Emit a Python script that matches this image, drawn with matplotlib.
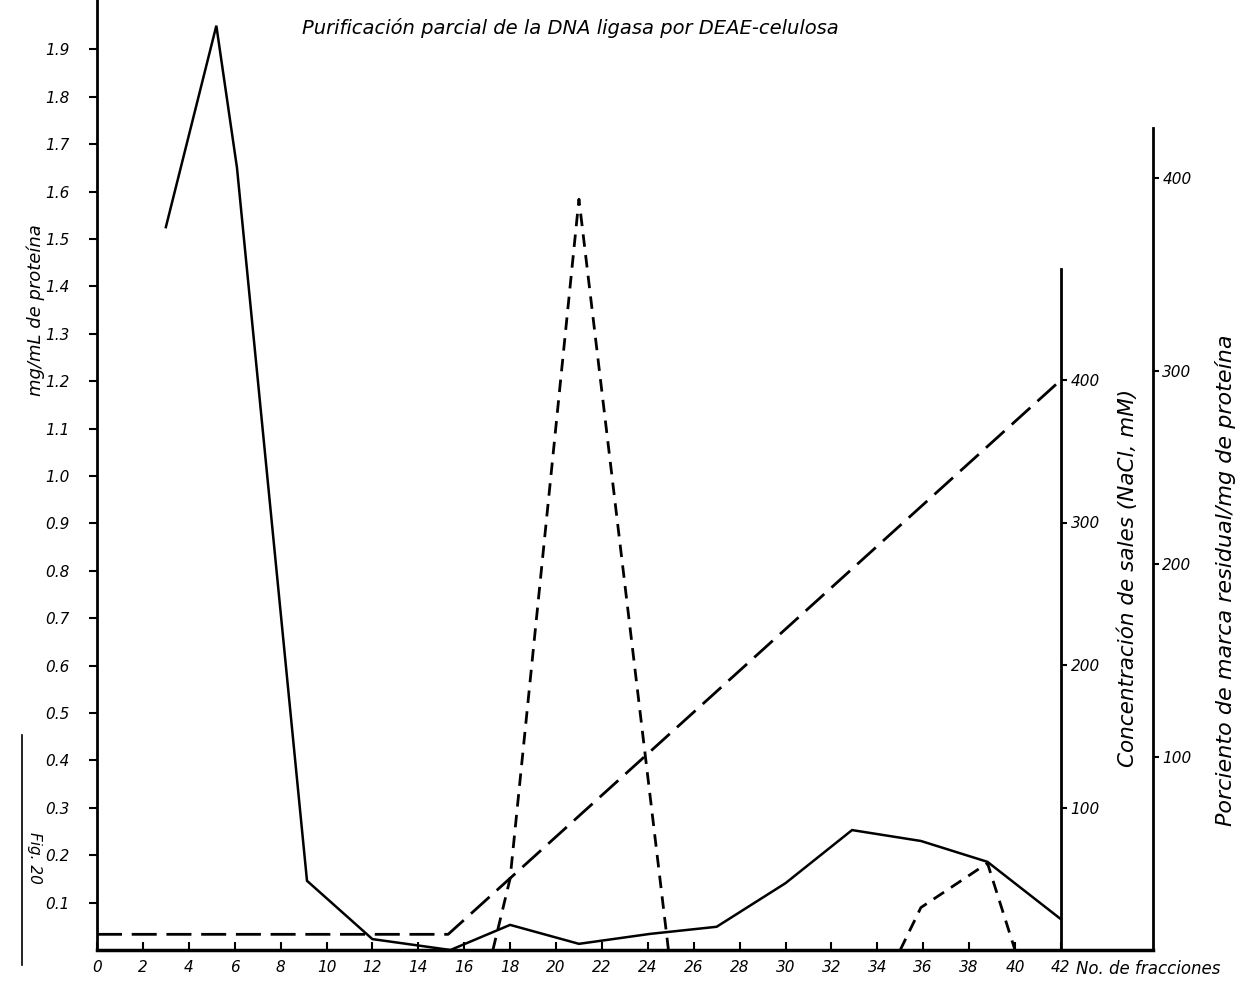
import matplotlib
matplotlib.use('Agg')
import matplotlib.pyplot as plt
from matplotlib.lines import Line2D

# ---------------- data ----------------
fractions_protein = [3.0, 5.2, 6.1, 9.15, 12.0, 15.4, 18.0, 21.0, 24.1, 27.0, 30.0, 32.9, 35.9, 38.8, 42.0]
protein_mg_ml = [1.525, 1.95, 1.65, 0.146, 0.023, 0.0, 0.053, 0.013, 0.034, 0.049, 0.141, 0.253, 0.23, 0.186, 0.065]

fractions_salt = [0.0, 15.3, 42.0]
salt_mM = [11, 11, 400]

fractions_activity_a = [17.25, 18.0, 21.0, 24.9]
activity_a = [0, 37, 389, 0]
fractions_activity_b = [35.0, 35.9, 38.8, 40.0]
activity_b = [0, 22, 45, 0]

x_ticks = list(range(0, 43, 2))
protein_ticks = [round(0.1 * i, 1) for i in range(1, 20)]
salt_ticks = [100, 200, 300, 400]
activity_ticks = [100, 200, 300, 400]

title = "Purificación parcial de la DNA ligasa por DEAE-celulosa"

# ---------------- figure ----------------
W, H = 1239, 981
fig = plt.figure(figsize=(W / 100, H / 100), dpi=100)
fig.patch.set_facecolor('white')

px_left = 97
px_per_x = 22.95
x_max = 46
px_bottom = 950
ax = fig.add_axes([px_left / W, (H - px_bottom) / H, x_max * px_per_x / W, px_bottom / H])
ax.set_xlim(0, x_max)
ax.set_ylim(0, px_bottom / 474)
ax.patch.set_alpha(0)

for s in ['top', 'right']:
    ax.spines[s].set_visible(False)
ax.spines['left'].set_linewidth(2)
ax.spines['bottom'].set_linewidth(2.5)

tick_font = dict(family='DejaVu Sans', style='italic', size=11)

ax.set_xticks(x_ticks)
ax.set_xticklabels([str(t) for t in x_ticks], fontdict=tick_font)
ax.tick_params(axis='x', direction='in', length=6, width=1.5, pad=7)
ax.set_yticks(protein_ticks)
ax.set_yticklabels([f"{t:.1f}" for t in protein_ticks], fontdict=tick_font)
ax.tick_params(axis='y', direction='out', length=6, width=1.5, pad=14)

# protein (solid)
ax.plot(fractions_protein, protein_mg_ml, color='black', lw=1.8, solid_joinstyle='miter', zorder=3)

# salt axis at fraction 42
ax2 = ax.twinx()
ax2.set_position(ax.get_position())
ax2.set_ylim(0, px_bottom / 1.425)
for s in ['top', 'left', 'bottom']:
    ax2.spines[s].set_visible(False)
ax2.spines['right'].set_position(('axes', 42 / x_max))
ax2.spines['right'].set_bounds(0, 478)
ax2.spines['right'].set_linewidth(2)
ax2.set_yticks(salt_ticks)
ax2.set_yticklabels([str(t) for t in salt_ticks], fontdict=tick_font)
ax2.tick_params(axis='y', direction='out', length=4, width=1.5, pad=3)
ax2.patch.set_alpha(0)
salt_line, = ax2.plot(fractions_salt, salt_mM, color='black', lw=2.0)
salt_line.set_dashes((9, 3.5))

# activity axis (far right)
ax3 = ax.twinx()
ax3.set_position(ax.get_position())
ax3.set_ylim(0, px_bottom / 1.93)
for s in ['top', 'left', 'bottom']:
    ax3.spines[s].set_visible(False)
ax3.spines['right'].set_bounds(0, 426)
ax3.spines['right'].set_linewidth(2)
ax3.set_yticks(activity_ticks)
ax3.set_yticklabels([str(t) for t in activity_ticks], fontdict=tick_font)
ax3.tick_params(axis='y', direction='out', length=4, width=1.5, pad=3)
ax3.patch.set_alpha(0)
for fx, fy in [(fractions_activity_a, activity_a), (fractions_activity_b, activity_b)]:
    l, = ax3.plot(fx, fy, color='black', lw=2.0)
    l.set_dashes((4.5, 3.0))

# ---------------- texts ----------------
lab_font = dict(family='DejaVu Sans', style='italic')
fig.text(570 / W, 1 - 28 / H, title, ha='center', va='center', fontsize=14, **lab_font)
fig.text(36 / W, 1 - 310 / H, "mg/mL de proteína", rotation=90, ha='center', va='center', fontsize=13, **lab_font)
fig.text(1128 / W, 1 - 578 / H, "Concentración de sales (NaCl, mM)", rotation=90,
         ha='center', va='center', fontsize=15.5, **lab_font)
fig.text(1225 / W, 1 - 580 / H, "Porciento de marca residual/mg de proteína", rotation=90,
         ha='center', va='center', fontsize=16, **lab_font)
fig.text(1076 / W, 1 - 969 / H, "No. de fracciones", ha='left', va='center', fontsize=12, **lab_font)
fig.text(34 / W, 1 - 858 / H, "Fig. 20", rotation=-90, ha='center', va='center', fontsize=11, **lab_font)
fig.add_artist(Line2D([22 / W, 22 / W], [1 - 735 / H, 1 - 965 / H], color='black', lw=1.2))

fig.savefig('out.png', dpi=100, facecolor='white')
